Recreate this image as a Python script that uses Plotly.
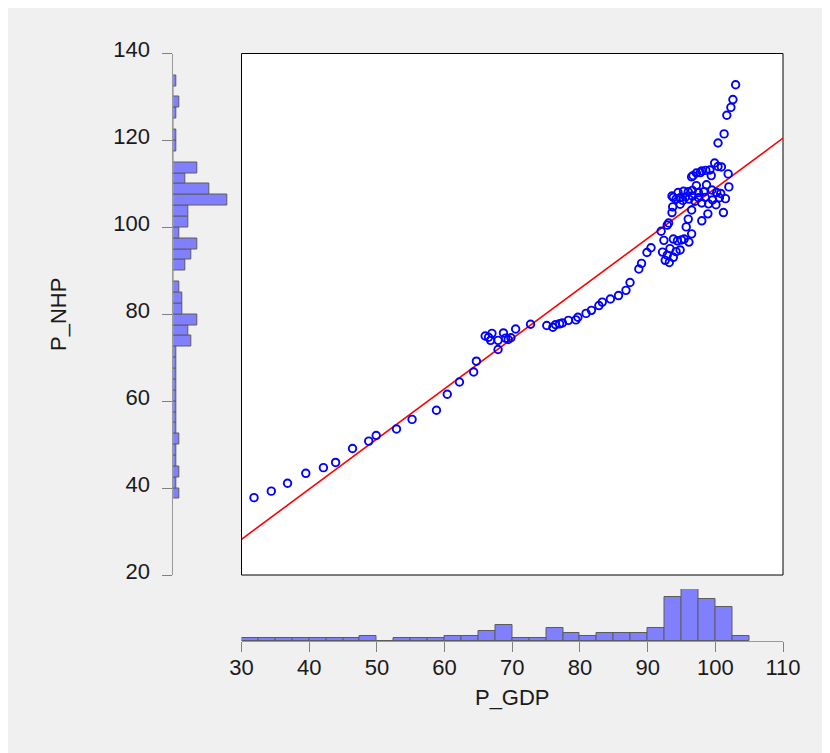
import numpy as np
import plotly.graph_objects as go

# ---------------- data ----------------
P_GDP = [31.85, 34.4, 36.8, 39.5, 42.1, 43.9, 46.4, 48.8, 49.9, 52.9, 55.2, 58.8,
         60.4, 62.2, 64.3, 64.7,
         67.9, 66.0, 66.5, 67.0, 66.8, 67.9, 68.7, 69.0, 69.4, 69.8, 70.5, 72.7,
         75.1, 76.0, 76.4, 77.0, 77.4, 78.3, 79.4, 79.7, 80.9, 81.7, 82.8, 83.3,
         84.5, 85.7, 86.8, 87.4, 88.7, 89.1,
         103.0, 102.6, 102.3, 101.7, 101.3, 100.4,
         99.9, 100.4, 100.9, 99.2, 98.6, 98.0, 97.8, 97.2, 96.7, 96.5, 99.4, 101.9,
         98.7, 97.2, 102.0, 94.5, 95.3, 96.0, 96.6, 97.5, 98.3, 99.5, 100.2, 100.8,
         93.6, 93.8, 94.2, 94.8, 95.2, 95.6, 96.1, 96.6, 97.0, 97.5, 98.0, 98.5,
         99.0, 99.6, 100.1, 100.6, 101.5, 94.8,
         93.7, 93.6, 96.5, 98.9, 101.2,
         93.1, 98.0, 96.0, 95.7, 92.9,
         92.0, 96.5,
         92.4, 93.8, 94.4, 95.0, 95.4, 96.1, 90.5, 93.3,
         92.2, 89.9, 94.8, 94.2, 93.8, 92.9,
         92.6, 93.2]
P_NHP = [37.8, 39.3, 41.1, 43.4, 44.7, 45.9, 49.1, 50.8, 52.1, 53.6, 55.8, 57.9,
         61.6, 64.4, 66.7, 69.2,
         71.9, 75.0, 74.7, 75.6, 74.0, 74.0, 75.7, 74.5, 74.2, 74.6, 76.6, 77.7,
         77.4, 77.0, 77.6, 77.8, 78.0, 78.6, 78.7, 79.3, 80.2, 80.9, 82.0, 82.8,
         83.5, 84.3, 85.5, 87.3, 90.4, 91.7,
         132.8, 129.4, 127.6, 125.8, 121.5, 119.4,
         114.8, 114.0, 113.9, 113.2, 113.1, 113.0, 112.6, 112.5, 111.9, 111.6, 111.9, 112.3,
         109.8, 109.6, 109.3, 108.0, 108.3, 108.2, 108.5, 108.0, 108.2, 108.6, 108.0, 107.8,
         107.2, 106.9, 106.5, 106.8, 106.2, 107.0, 106.5, 107.2, 106.0, 106.8, 105.6, 106.9,
         105.4, 106.3, 105.2, 106.8, 106.6, 105.3,
         104.7, 103.4, 104.0, 103.1, 103.4,
         101.0, 101.5, 101.9, 100.1, 100.5,
         99.1, 98.5,
         97.0, 97.3, 96.9, 97.1, 97.3, 96.6, 95.3, 95.1,
         94.3, 94.2, 94.8, 94.4, 93.1, 93.6,
         92.4, 91.9]

# histogram counts (bin width 2.5)
BIN_WIDTH = 2.5
GDP_BIN_START = 30.0
GDP_COUNTS = [1, 1, 1, 1, 1, 1, 1, 2, 0, 1, 1, 1, 2, 2, 4, 6, 1, 1, 5, 3,
              2, 3, 3, 3, 5, 17, 20, 16, 13, 2]
NHP_BIN_START = 37.5
NHP_COUNTS = [2, 1, 2, 1, 1, 2, 1, 1, 1, 1, 1, 1, 1, 1, 6, 5, 8, 3, 3, 2,
              0, 4, 6, 8, 2, 5, 5, 18, 12, 4, 8, 0, 1, 1, 0, 1, 2, 0, 1]

X_RANGE = [30, 110]
Y_RANGE = [20, 140]

# ---------------- derived ----------------
gdp_centers = [GDP_BIN_START + BIN_WIDTH * (i + 0.5) for i in range(len(GDP_COUNTS))]
nhp_centers = [NHP_BIN_START + BIN_WIDTH * (i + 0.5) for i in range(len(NHP_COUNTS))]
slope, intercept = np.polyfit(P_GDP, P_NHP, 1)
fit_x = np.array(X_RANGE, dtype=float)
fit_y = intercept + slope * fit_x

W, H = 830, 753
OFF = 8  # page body margin


def fx(px):
    return (px - OFF) / W


def fy(py):
    return 1 - (py - OFF) / H


FONT = "Liberation Sans, Arial, sans-serif"
BAR_FILL = "#8080ff"
BAR_LINE = "#5c5c5c"
AX_GRAY = "#999999"

main_x = [fx(241.5), fx(783)]
main_y = [fy(575), fy(53.5)]

fig = go.Figure()

fig.add_trace(go.Scatter(
    x=fit_x, y=fit_y, mode="lines",
    line=dict(color="#ff0000", width=1.6),
    xaxis="x", yaxis="y", hoverinfo="skip"))

fig.add_trace(go.Scatter(
    x=P_GDP, y=P_NHP, mode="markers",
    marker=dict(symbol="circle-open", size=7.5, color="#0000ff",
                line=dict(width=1.9, color="#0000ff")),
    xaxis="x", yaxis="y"))

fig.add_trace(go.Bar(
    x=NHP_COUNTS, y=nhp_centers, orientation="h", width=BIN_WIDTH,
    marker=dict(color=BAR_FILL, line=dict(color=BAR_LINE, width=1)),
    xaxis="x2", yaxis="y2"))

fig.add_trace(go.Bar(
    x=gdp_centers, y=GDP_COUNTS, width=BIN_WIDTH,
    marker=dict(color=BAR_FILL, line=dict(color=BAR_LINE, width=1)),
    xaxis="x3", yaxis="y3"))

hidden = dict(showticklabels=False, showline=False, showgrid=False,
              zeroline=False, ticks="")

fig.update_layout(
    width=W, height=H,
    margin=dict(l=0, r=0, t=0, b=0, pad=0, autoexpand=False),
    paper_bgcolor="#f0f0f0",
    plot_bgcolor="#f0f0f0",
    showlegend=False,
    font=dict(family=FONT, size=22, color="#1a1a1a"),
    bargap=0,
    xaxis=dict(domain=main_x, range=X_RANGE, anchor="y", **hidden),
    yaxis=dict(domain=main_y, range=Y_RANGE, anchor="x", **hidden),
    xaxis2=dict(domain=[fx(173.3), fx(233.3)], range=[0, 20], anchor="y2", **hidden),
    yaxis2=dict(domain=main_y, range=Y_RANGE, anchor="x2", side="left",
                automargin=False,
                showline=True, linecolor=AX_GRAY, linewidth=1,
                ticks="outside", ticklen=10, tickcolor="#808080", tickwidth=1,
                tick0=20, dtick=20, showgrid=False, zeroline=False,
                ticklabelstandoff=8, ticklabelshift=-4,
                tickfont=dict(family=FONT, size=22, color="#1a1a1a"),
                title=dict(text="P_NHP", standoff=40,
                           font=dict(family=FONT, size=22, color="#1a1a1a"))),
    xaxis3=dict(domain=main_x, range=X_RANGE, anchor="y3", side="bottom",
                automargin=False,
                showline=True, linecolor=AX_GRAY, linewidth=1,
                ticks="outside", ticklen=10, tickcolor="#808080", tickwidth=1,
                tick0=30, dtick=10, showgrid=False, zeroline=False,
                ticklabelstandoff=-3,
                tickfont=dict(family=FONT, size=22, color="#1a1a1a"),
                title=dict(text="P_GDP", standoff=10,
                           font=dict(family=FONT, size=22, color="#1a1a1a"))),
    yaxis3=dict(domain=[fy(641), fy(589)], range=[0, 20], anchor="x3", **hidden),
    shapes=[dict(type="rect", xref="x domain", yref="y domain",
                 x0=0, x1=1, y0=0, y1=1, fillcolor="white",
                 line=dict(color="black", width=1), layer="below")],
)

fig.write_html("out.html")
